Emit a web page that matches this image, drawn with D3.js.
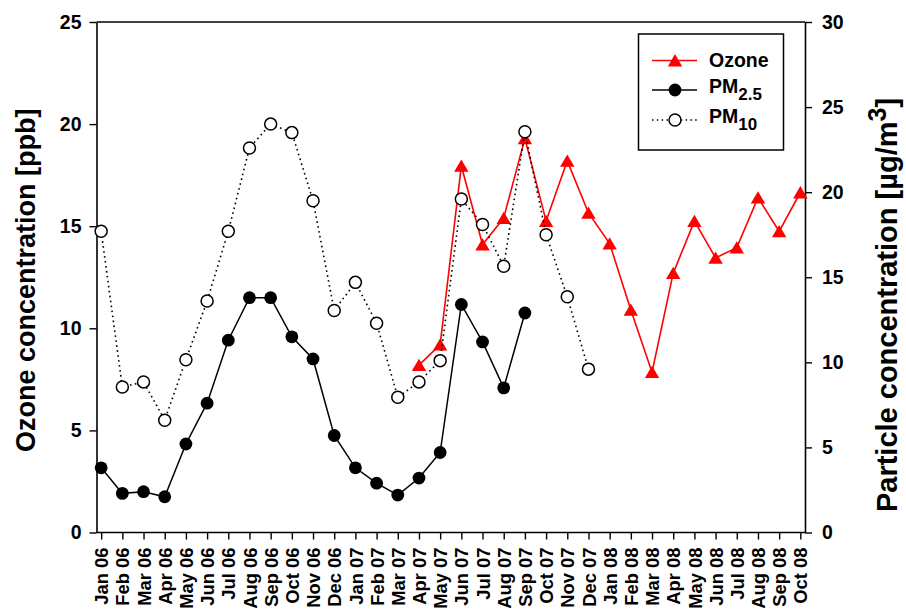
<!DOCTYPE html>
<html>
<head>
<meta charset="utf-8">
<script src="https://cdn.jsdelivr.net/npm/d3@7"></script>
<style>
  html, body { margin: 0; padding: 0; background: #fff; }
  svg { display: block; font-family: "Liberation Sans", Arial, sans-serif; font-weight: bold; }
</style>
</head>
<body>
<svg id="chart" width="906" height="612"></svg>
<script>
// Monthly categories on the x axis
const months = [
  "Jan 06","Feb 06","Mar 06","Apr 06","May 06","Jun 06","Jul 06","Aug 06","Sep 06","Oct 06","Nov 06","Dec 06",
  "Jan 07","Feb 07","Mar 07","Apr 07","May 07","Jun 07","Jul 07","Aug 07","Sep 07","Oct 07","Nov 07","Dec 07",
  "Jan 08","Feb 08","Mar 08","Apr 08","May 08","Jun 08","Jul 08","Aug 08","Sep 08","Oct 08"
];

// Ozone [ppb], Apr 07 – Oct 08 (left axis)
const ozoneMonths = months.slice(15);
const ozone = [8.2, 9.2, 17.95, 14.1, 15.4, 19.3, 15.25, 18.2, 15.65, 14.15, 10.9, 7.85,
               12.7, 15.25, 13.45, 13.95, 16.4, 14.75, 16.65];

// PM2.5 [µg/m3], Jan 06 – Sep 07 (right axis)
const pm25Months = months.slice(0, 21);
const pm25 = [3.8, 2.3, 2.4, 2.1, 5.2, 7.6, 11.3, 13.8, 13.8, 11.5, 10.2, 5.7,
              3.8, 2.9, 2.2, 3.2, 4.7, 13.4, 11.2, 8.5, 12.9];

// PM10 [µg/m3], Jan 06 – Dec 07 (right axis)
const pm10Months = months.slice(0, 24);
const pm10 = [17.7, 8.55, 8.85, 6.6, 10.15, 13.6, 17.7, 22.6, 24.0, 23.5, 19.5, 13.05,
              14.7, 12.3, 7.95, 8.85, 10.1, 19.6, 18.1, 15.65, 23.55, 17.5, 13.85, 9.6];

// Axis tick values
const leftTicks = [0, 5, 10, 15, 20, 25];
const rightTicks = [0, 5, 10, 15, 20, 25, 30];

const svg = d3.select("#chart");
const plot = { left: 96.5, right: 805, top: 22, bottom: 532.5 };

const x = d3.scalePoint().domain(months).range([plot.left, plot.right]).padding(0.22);
const yL = d3.scaleLinear().domain([0, 25]).range([plot.bottom, plot.top]);
const yR = d3.scaleLinear().domain([0, 30]).range([plot.bottom, plot.top]);

// Top frame line
svg.append("line")
  .attr("x1", plot.left).attr("x2", plot.right)
  .attr("y1", plot.top).attr("y2", plot.top)
  .attr("stroke", "#000").attr("stroke-width", 1.6);

function styleAxis(g, fontSize) {
  g.select(".domain").attr("stroke", "#000").attr("stroke-width", 1.6);
  g.selectAll(".tick line").attr("stroke", "#000").attr("stroke-width", 1.4);
  g.selectAll(".tick text").attr("fill", "#000")
    .style("font-size", fontSize + "px").style("font-weight", "bold")
    .style("font-family", '"Liberation Sans", Arial, sans-serif');
}

// Left axis
const gL = svg.append("g").attr("transform", `translate(${plot.left},0)`)
  .call(d3.axisLeft(yL).tickValues(leftTicks).tickSize(7).tickPadding(8).tickSizeOuter(0));
styleAxis(gL, 19.5);

// Right axis
const gR = svg.append("g").attr("transform", `translate(${plot.right},0)`)
  .call(d3.axisRight(yR).tickValues(rightTicks).tickSize(7).tickPadding(10).tickSizeOuter(0));
styleAxis(gR, 19.5);

// Bottom axis with vertical month labels
const gB = svg.append("g").attr("transform", `translate(0,${plot.bottom})`)
  .call(d3.axisBottom(x).tickSize(7).tickSizeOuter(0));
gB.select(".domain").attr("d", `M${plot.left},0H${plot.right}`);
styleAxis(gB, 18.4);
gB.selectAll(".tick text")
  .attr("transform", "rotate(-90)")
  .attr("text-anchor", "end")
  .attr("x", -15).attr("y", 0).attr("dy", "0.36em");

// Axis titles
svg.append("text")
  .attr("transform", `translate(35,${(plot.top + plot.bottom) / 2 + 3}) rotate(-90)`)
  .attr("text-anchor", "middle")
  .style("font-size", "27px")
  .text("Ozone concentration [ppb]");

const rt = svg.append("text")
  .attr("transform", `translate(897,305) rotate(-90)`)
  .attr("text-anchor", "middle")
  .style("font-size", "29px");
rt.append("tspan").text("Particle concentration [µg/m");
rt.append("tspan").attr("dy", -11).style("font-size", "25px").text("3");
rt.append("tspan").attr("dy", 11).text("]");

// Line generators
const lineL = d3.line().defined(d => d.v != null).x(d => x(d.m)).y(d => yL(d.v));
const lineR = d3.line().defined(d => d.v != null).x(d => x(d.m)).y(d => yR(d.v));

const ozoneData = ozoneMonths.map((m, i) => ({ m, v: ozone[i] }));
const pm25Data = pm25Months.map((m, i) => ({ m, v: pm25[i] }));
const pm10Data = pm10Months.map((m, i) => ({ m, v: pm10[i] }));

const triPath = "M0,-6.4L7.2,5.9L-7.2,5.9Z";

// Ozone series
svg.append("path").datum(ozoneData).attr("d", lineL)
  .attr("fill", "none").attr("stroke", "#ff0000").attr("stroke-width", 1.6);
svg.append("g").selectAll("path").data(ozoneData).join("path")
  .attr("d", triPath)
  .attr("transform", d => `translate(${x(d.m)},${yL(d.v)})`)
  .attr("fill", "#ff0000");

// PM2.5 series
svg.append("path").datum(pm25Data).attr("d", lineR)
  .attr("fill", "none").attr("stroke", "#000").attr("stroke-width", 1.5);
svg.append("g").selectAll("circle").data(pm25Data).join("circle")
  .attr("cx", d => x(d.m)).attr("cy", d => yR(d.v)).attr("r", 6.4)
  .attr("fill", "#000");

// PM10 series
svg.append("path").datum(pm10Data).attr("d", lineR)
  .attr("fill", "none").attr("stroke", "#000").attr("stroke-width", 1.6)
  .attr("stroke-dasharray", "1.6,3.4");
svg.append("g").selectAll("circle").data(pm10Data).join("circle")
  .attr("cx", d => x(d.m)).attr("cy", d => yR(d.v)).attr("r", 6)
  .attr("fill", "#fff").attr("stroke", "#000").attr("stroke-width", 1.5);

// Legend
const lg = svg.append("g");
lg.append("rect").attr("x", 638.5).attr("y", 34).attr("width", 145).attr("height", 116)
  .attr("fill", "#fff").attr("stroke", "#000").attr("stroke-width", 1.5);

const rowY = [60.5, 90, 120];
// Ozone entry
lg.append("line").attr("x1", 652).attr("x2", 697).attr("y1", rowY[0]).attr("y2", rowY[0])
  .attr("stroke", "#ff0000").attr("stroke-width", 1.6);
lg.append("path").attr("d", triPath).attr("transform", `translate(675,${rowY[0]})`).attr("fill", "#ff0000");
lg.append("text").attr("x", 709).attr("y", rowY[0] + 6.5).style("font-size", "19.5px").text("Ozone");
// PM2.5 entry
lg.append("line").attr("x1", 652).attr("x2", 697).attr("y1", rowY[1]).attr("y2", rowY[1])
  .attr("stroke", "#000").attr("stroke-width", 1.5);
lg.append("circle").attr("cx", 675).attr("cy", rowY[1]).attr("r", 6.4).attr("fill", "#000");
const t25 = lg.append("text").attr("x", 709).attr("y", rowY[1] + 2.5).style("font-size", "19.5px");
t25.append("tspan").text("PM");
t25.append("tspan").attr("dy", 7).style("font-size", "17px").text("2.5");
// PM10 entry
lg.append("line").attr("x1", 652).attr("x2", 697).attr("y1", rowY[2]).attr("y2", rowY[2])
  .attr("stroke", "#000").attr("stroke-width", 1.5).attr("stroke-dasharray", "1.5,3.3");
lg.append("circle").attr("cx", 675).attr("cy", rowY[2]).attr("r", 6)
  .attr("fill", "#fff").attr("stroke", "#000").attr("stroke-width", 1.5);
const t10 = lg.append("text").attr("x", 709).attr("y", rowY[2] + 2.5).style("font-size", "19.5px");
t10.append("tspan").text("PM");
t10.append("tspan").attr("dy", 7).style("font-size", "17px").text("10");
</script>
</body>
</html>
